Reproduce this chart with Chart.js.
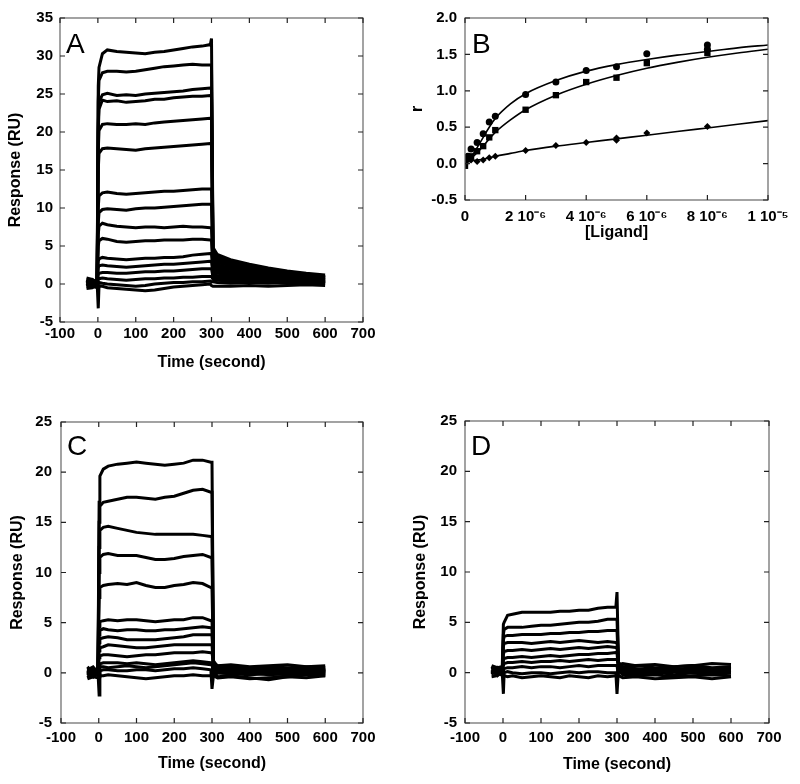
<!DOCTYPE html>
<html>
<head>
<meta charset="utf-8">
<script src="https://cdn.jsdelivr.net/npm/chart.js@4"></script>
<style>
body { margin: 0; background: #fff; }
.wrap { position: relative; width: 800px; height: 784px; background: #fff; }
canvas { position: absolute; }
</style>
</head>
<body>
<div class="wrap">
<canvas id="chartA" width="400" height="380" style="left:0px;top:0px"></canvas>
<canvas id="chartB" width="400" height="250" style="left:400px;top:0px"></canvas>
<canvas id="chartC" width="400" height="384" style="left:0px;top:400px"></canvas>
<canvas id="chartD" width="400" height="384" style="left:400px;top:400px"></canvas>
</div>
<script>
// sampling times (s) shared by the sensorgrams in A, C and D
var timeSec = [-30, -15, -2, 1, 3, 12, 25, 50, 75, 100, 125, 150, 175, 200, 225,
  250, 275, 297, 300, 304, 315, 350, 400, 450, 500, 550, 600];

// panel A sensorgrams (RU)
var a1 = [0.5, 0.3, 0.4, 26, 28.5, 30.3, 30.8, 30.6, 30.5, 30.4, 30.3, 30.5, 30.6, 30.8, 31.0, 31.2, 31.3, 31.5, 32.3, 4.8, 3.9, 3.2, 2.6, 2.1, 1.7, 1.4, 1.2];
var a2 = [0.3, 0.5, 0.2, 24, 26.8, 27.8, 28.0, 28.0, 27.9, 28.0, 28.2, 28.4, 28.6, 28.7, 28.8, 28.9, 28.8, 28.8, 28.7, 4.3, 3.6, 3.0, 2.4, 2.0, 1.6, 1.3, 1.0];
var a3 = [0, 0.2, -0.2, 21, 24, 24.9, 25.1, 24.8, 24.9, 24.8, 25.0, 25.1, 25.2, 25.3, 25.4, 25.6, 25.7, 25.8, 25.8, 4.0, 3.3, 2.8, 2.2, 1.8, 1.5, 1.2, 0.9];
var a4 = [0.4, 0, 0.3, 20, 23, 24.2, 24.0, 24.1, 23.9, 24.0, 24.1, 24.3, 24.3, 24.5, 24.6, 24.7, 24.7, 24.8, 24.8, 3.7, 3.0, 2.6, 2.0, 1.7, 1.4, 1.1, 0.9];
var a5 = [0.2, 0.6, 0.1, 17.5, 20.2, 21.0, 21.1, 21.0, 21.0, 21.1, 21.0, 21.2, 21.3, 21.4, 21.5, 21.6, 21.7, 21.8, 21.8, 3.4, 2.8, 2.4, 1.9, 1.5, 1.3, 1.0, 0.8];
var a6 = [0.6, 0.2, 0.5, 15, 17.2, 17.8, 17.9, 17.8, 17.7, 17.6, 17.8, 17.9, 18.0, 18.1, 18.2, 18.3, 18.4, 18.5, 18.5, 3.1, 2.5, 2.1, 1.7, 1.4, 1.1, 0.9, 0.7];
var a7 = [-0.2, 0.3, 0, 10, 11.6, 12.0, 12.1, 11.9, 11.8, 11.9, 12.0, 12.1, 12.2, 12.2, 12.3, 12.4, 12.5, 12.5, 12.5, 2.7, 2.2, 1.9, 1.5, 1.2, 1.0, 0.8, 0.6];
var a8 = [0.3, -0.2, 0.5, 8, 9.4, 9.8, 9.9, 9.8, 9.7, 9.9, 10.0, 10.0, 10.1, 10.2, 10.3, 10.4, 10.5, 10.5, 10.5, 2.4, 1.9, 1.6, 1.3, 1.1, 0.9, 0.7, 0.6];
var a9 = [0.1, 0.4, -0.1, 6.5, 7.6, 8.0, 7.8, 7.6, 7.5, 7.4, 7.5, 7.5, 7.4, 7.5, 7.6, 7.5, 7.5, 7.4, 7.4, 2.1, 1.7, 1.4, 1.1, 0.9, 0.8, 0.6, 0.5];
var a10 = [-0.3, 0.1, 0.3, 5, 5.7, 6.0, 5.9, 5.6, 5.5, 5.6, 5.7, 5.7, 5.8, 5.8, 5.8, 5.9, 5.9, 5.8, 5.8, 1.8, 1.4, 1.2, 1.0, 0.8, 0.7, 0.5, 0.4];
var a11 = [0.5, -0.1, 0.2, 3, 3.3, 3.5, 3.4, 3.3, 3.2, 3.3, 3.4, 3.4, 3.5, 3.5, 3.6, 3.8, 3.9, 4.0, 4.0, 1.5, 1.1, 1.0, 0.8, 0.6, 0.5, 0.4, 0.3];
var a12 = [0, 0.3, -0.3, 2.1, 2.4, 2.5, 2.4, 2.3, 2.2, 2.3, 2.4, 2.5, 2.6, 2.6, 2.7, 2.8, 2.9, 3.0, 3.0, 1.2, 0.9, 0.8, 0.6, 0.5, 0.4, 0.3, 0.3];
var a13 = [0.3, 0.5, 0.1, 1.2, 1.4, 1.5, 1.5, 1.4, 1.4, 1.5, 1.6, 1.6, 1.7, 1.7, 1.8, 1.9, 2.0, 2.0, 2.0, 0.9, 0.7, 0.6, 0.5, 0.4, 0.3, 0.2, 0.2];
var a14 = [-0.4, -0.2, -0.5, 0.5, 0.7, 0.8, 0.7, 0.6, 0.5, 0.6, 0.7, 0.7, 0.8, 0.8, 0.9, 0.9, 1.0, 1.0, 1.0, 0.6, 0.5, 0.4, 0.3, 0.2, 0.1, 0.1, 0.1];
var a15 = [0.8, 0.6, 0.2, -3.2, -0.2, -0.3, -0.5, -0.6, -0.7, -0.8, -0.9, -0.8, -0.6, -0.4, -0.3, -0.2, -0.1, 0, -0.2, -0.3, -0.3, -0.3, -0.2, -0.3, -0.2, -0.1, -0.2];
var a16 = [-0.6, -0.5, -0.2, 0, 0.2, 0.1, 0, -0.1, -0.2, -0.3, -0.2, 0, 0.1, 0.2, 0.2, 0.3, 0.3, 0.4, 0.3, 0.3, 0.2, 0.1, 0.2, 0.1, 0.3, 0.2, 0.3];

// panel C sensorgrams (RU)
var c1 = [0.3, -0.2, 0.5, 17, 19.6, 20.3, 20.6, 20.8, 20.9, 21.0, 20.9, 20.8, 20.7, 20.8, 20.9, 21.2, 21.2, 21.0, 21.0, 1.2, 0.6, 0.5, 0.4, 0.4, 0.3, 0.4, 0.3];
var c2 = [-0.2, 0.3, 0, 15, 16.6, 17.0, 17.1, 17.3, 17.5, 17.5, 17.4, 17.3, 17.5, 17.6, 17.9, 18.2, 18.3, 18.0, 18.0, 0.9, 0.5, 0.3, 0.4, 0.2, 0.3, 0.2, 0.3];
var c3 = [0.5, 0.1, -0.3, 12.5, 14.2, 14.5, 14.6, 14.4, 14.2, 14.0, 13.9, 13.8, 13.8, 13.8, 13.8, 13.8, 13.7, 13.6, 13.6, 0.8, 0.4, 0.3, 0.2, 0.3, 0.2, 0.1, 0.2];
var c4 = [0, 0.4, 0.2, 10, 11.5, 11.8, 11.9, 11.7, 11.7, 11.7, 11.5, 11.3, 11.3, 11.4, 11.6, 11.7, 11.8, 11.5, 11.5, 0.7, 0.3, 0.2, 0.1, 0.2, 0.1, 0.2, 0.1];
var c5 = [0.2, -0.3, 0.3, 7.5, 8.5, 8.7, 8.8, 8.9, 8.8, 9.0, 8.7, 8.5, 8.5, 8.7, 8.8, 9.0, 8.9, 8.5, 8.5, 0.6, 0.2, 0.1, 0.1, 0, 0.1, 0, 0.1];
var c6 = [0.4, 0.2, -0.1, 4.6, 5.1, 5.2, 5.3, 5.2, 5.3, 5.3, 5.2, 5.1, 5.2, 5.3, 5.3, 5.5, 5.5, 5.2, 5.2, 0.5, 0.1, 0, 0, -0.1, 0, -0.1, 0];
var c7 = [-0.1, 0.5, 0.1, 3.8, 4.2, 4.4, 4.3, 4.2, 4.3, 4.3, 4.2, 4.2, 4.3, 4.3, 4.4, 4.5, 4.6, 4.5, 4.5, 0.4, 0, -0.1, -0.2, -0.1, -0.2, -0.1, -0.2];
var c8 = [0.6, 0, 0.4, 3, 3.4, 3.5, 3.6, 3.5, 3.3, 3.3, 3.3, 3.3, 3.4, 3.5, 3.6, 3.8, 3.8, 3.8, 3.8, 0.7, 0.3, 0.2, 0.3, 0.1, 0.2, 0.3, 0.2];
var c9 = [0, -0.4, 0.2, 2.2, 2.5, 2.6, 2.8, 2.7, 2.6, 2.5, 2.5, 2.6, 2.7, 2.8, 2.8, 2.8, 2.8, 2.8, 2.8, 0.6, 0.4, 0.5, 0.3, 0.4, 0.3, 0.5, 0.4];
var c10 = [-0.5, 0, -0.2, 1.5, 1.7, 1.8, 1.8, 1.7, 1.6, 1.7, 1.8, 1.8, 1.9, 2.0, 2.0, 2.0, 2.1, 2.0, 2.0, 0.9, 0.7, 0.6, 0.5, 0.6, 0.5, 0.6, 0.5];
var c11 = [0.3, 0.6, 0, 0.8, 0.9, 1.0, 1.0, 1.0, 0.9, 1.0, 0.9, 0.8, 0.9, 1.0, 1.1, 1.2, 1.1, 1.0, 1.0, -0.3, -0.5, -0.4, -0.6, -0.5, -0.4, -0.5, -0.3];
var c12 = [-0.3, 0.2, 0, -2.2, 0.2, 0.3, 0.3, 0.2, 0.2, 0.3, 0.3, 0.2, 0.3, 0.4, 0.4, 0.5, 0.4, 0.3, -1.6, -0.2, 0, -0.1, 0, -0.2, -0.1, 0, -0.1];
var c13 = [0.1, -0.1, 0.3, -0.4, -0.3, -0.3, -0.2, -0.3, -0.4, -0.5, -0.6, -0.5, -0.4, -0.3, -0.3, -0.2, -0.3, -0.3, -0.3, 1.0, 0.7, 0.8, 0.6, 0.7, 0.8, 0.6, 0.7];
var c14 = [-0.6, -0.4, -0.5, -0.2, 0.6, 0.6, 0.5, 0.6, 0.7, 0.6, 0.5, 0.6, 0.7, 0.8, 0.9, 1.0, 0.9, 0.8, 0.8, 0.2, -0.4, -0.3, -0.5, -0.7, -0.4, -0.2, -0.3];

// panel D sensorgrams (RU)
var d1 = [0.3, -0.2, 0.5, 4.8, 5.0, 5.7, 5.8, 6.0, 6.0, 6.0, 6.0, 6.1, 6.1, 6.2, 6.2, 6.4, 6.5, 6.5, 8.0, 1.0, 0.6, 0.4, 0.3, 0.4, 0.3, 0.4, 0.3];
var d2 = [-0.2, 0.3, 0, 3.8, 4.3, 4.5, 4.5, 4.5, 4.6, 4.7, 4.7, 4.8, 4.9, 5.0, 5.0, 5.1, 5.3, 5.3, 5.3, 0.8, 0.4, 0.3, 0.4, 0.2, 0.3, 0.2, 0.3];
var d3 = [0.5, 0.1, -0.3, 3.2, 3.6, 3.7, 3.7, 3.8, 3.8, 3.8, 3.9, 3.9, 4.0, 4.0, 4.1, 4.1, 4.2, 4.2, 4.2, 0.6, 0.3, 0.2, 0.1, 0.3, 0.2, 0.1, 0.2];
var d4 = [0, 0.4, 0.2, 2.6, 2.9, 3.0, 3.0, 3.0, 2.9, 3.0, 3.1, 3.0, 3.1, 3.2, 3.1, 3.0, 3.1, 3.0, 3.0, 0.5, 0.2, 0.1, 0, 0.1, 0, 0.1, 0];
var d5 = [0.2, -0.3, 0.3, 1.8, 2.1, 2.2, 2.2, 2.3, 2.2, 2.3, 2.4, 2.3, 2.4, 2.5, 2.4, 2.5, 2.6, 2.5, 2.5, 0.3, 0, -0.1, 0.1, -0.2, 0, -0.1, 0];
var d6 = [0.4, 0.2, -0.1, 1.2, 1.4, 1.5, 1.5, 1.6, 1.5, 1.6, 1.7, 1.6, 1.7, 1.8, 1.8, 1.9, 1.9, 2.0, 2.0, 0.2, -0.2, -0.3, -0.2, -0.4, -0.3, -0.2, -0.3];
var d7 = [-0.1, 0.5, 0.1, 0.7, 0.9, 1.0, 1.0, 1.1, 1.0, 1.1, 1.1, 1.2, 1.1, 1.2, 1.3, 1.2, 1.3, 1.3, 1.3, 0.9, 0.6, 0.7, 0.5, 0.6, 0.7, 0.5, 0.6];
var d8 = [0.6, 0, 0.4, 0.2, 0.4, 0.5, 0.5, 0.6, 0.5, 0.6, 0.6, 0.5, 0.6, 0.7, 0.6, 0.7, 0.7, 0.7, 0.7, -0.3, -0.5, -0.4, -0.6, -0.5, -0.4, -0.6, -0.4];
var d9 = [-0.4, -0.3, 0, -2.1, 0, 0.1, 0, -0.1, 0, 0, -0.1, 0, 0.1, 0, 0.1, 0.1, 0, 0, -2.1, 0.4, 0.3, 0.4, 0.2, 0.3, 0.5, 0.3, 0.4];
var d10 = [0.7, 0.5, 0.6, -0.4, -0.3, -0.4, -0.3, -0.5, -0.4, -0.3, -0.4, -0.5, -0.3, -0.4, -0.5, -0.3, -0.4, -0.3, -0.3, 0.8, 0.9, 0.7, 0.8, 0.6, 0.7, 0.9, 0.8];

// panel B: binding isotherms, r versus [Ligand] (M)
var circleX = [0, 1e-7, 2e-7, 4e-7, 6e-7, 8e-7, 1e-6, 2e-6, 3e-6, 4e-6, 5e-6, 6e-6, 8e-6, 8e-6];
var circleY = [0.02, 0.1, 0.2, 0.29, 0.41, 0.57, 0.65, 0.95, 1.12, 1.28, 1.33, 1.51, 1.63, 1.57];
var squareX = [0, 0, 1e-7, 2e-7, 4e-7, 6e-7, 8e-7, 1e-6, 2e-6, 3e-6, 4e-6, 5e-6, 6e-6, 8e-6];
var squareY = [-0.03, 0.02, 0.06, 0.1, 0.17, 0.24, 0.36, 0.46, 0.74, 0.94, 1.12, 1.18, 1.38, 1.52];
var diamondX = [0, 2e-7, 4e-7, 6e-7, 8e-7, 1e-6, 2e-6, 3e-6, 4e-6, 5e-6, 5e-6, 6e-6, 8e-6];
var diamondY = [0.0, 0.05, 0.03, 0.05, 0.08, 0.1, 0.18, 0.25, 0.29, 0.35, 0.32, 0.42, 0.51];
var fitX = [0, 2e-7, 4e-7, 6e-7, 8e-7, 1e-6, 1.5e-6, 2e-6, 3e-6, 4e-6, 5e-6, 6e-6, 7e-6, 8e-6, 9e-6, 1e-5];
var circleFit = [0, 0.09, 0.22, 0.36, 0.5, 0.62, 0.82, 0.96, 1.14, 1.27, 1.36, 1.43, 1.49, 1.54, 1.59, 1.63];
var squareFit = [0, 0.07, 0.15, 0.24, 0.34, 0.43, 0.6, 0.74, 0.94, 1.09, 1.21, 1.31, 1.39, 1.46, 1.52, 1.57];
var diamondFit = [0.02, 0.04, 0.05, 0.06, 0.08, 0.1, 0.14, 0.18, 0.24, 0.29, 0.34, 0.39, 0.44, 0.49, 0.54, 0.59];

Chart.defaults.font.family = '"Liberation Sans", Arial, sans-serif';
Chart.defaults.color = '#000';
Chart.defaults.animation = false;

var tickFont = { size: 15, weight: 'bold' };
var titleFont = { size: 16, weight: 'bold' };
var noGrid = { display: false, drawTicks: false };

// box round the plot, inward tick marks on all four sides, panel letter
var framePlugin = {
  id: 'frame',
  afterDraw: function(chart, args, opts) {
    var ctx = chart.ctx;
    var a = chart.chartArea;
    var sx = chart.scales.x;
    var sy = chart.scales.y;
    ctx.save();
    ctx.strokeStyle = '#666';
    ctx.lineWidth = 1.2;
    ctx.strokeRect(a.left, a.top, a.right - a.left, a.bottom - a.top);
    ctx.strokeStyle = '#222';
    ctx.beginPath();
    sx.ticks.forEach(function(t) {
      var p = sx.getPixelForValue(t.value);
      ctx.moveTo(p, a.bottom);
      ctx.lineTo(p, a.bottom - 5);
      ctx.moveTo(p, a.top);
      ctx.lineTo(p, a.top + 5);
    });
    sy.ticks.forEach(function(t) {
      var p = sy.getPixelForValue(t.value);
      ctx.moveTo(a.left, p);
      ctx.lineTo(a.left + 5, p);
      ctx.moveTo(a.right, p);
      ctx.lineTo(a.right - 5, p);
    });
    ctx.stroke();
    ctx.fillStyle = '#000';
    ctx.font = '28px "Liberation Sans", Arial, sans-serif';
    ctx.textBaseline = 'alphabetic';
    ctx.fillText(opts.letter, a.left + opts.dx, a.top + opts.dy);
    ctx.restore();
  }
};

function traceSets(series) {
  return series.map(function(vals) {
    return {
      data: vals.map(function(v, i) { return { x: timeSec[i], y: v }; }),
      borderColor: '#000',
      borderWidth: 3,
      pointRadius: 0,
      tension: 0
    };
  });
}

function xyPoints(xs, ys) {
  return xs.map(function(x, i) { return { x: x, y: ys[i] }; });
}

function sensorChart(id, letter, series, yMax, box) {
  return new Chart(document.getElementById(id), {
    type: 'line',
    data: { datasets: traceSets(series) },
    options: {
      responsive: false,
      layout: { padding: { top: box.top, right: box.right, left: 0, bottom: 0 } },
      plugins: {
        legend: { display: false },
        tooltip: { enabled: false },
        frame: { letter: letter, dx: box.letterDx, dy: box.letterDy }
      },
      scales: {
        x: {
          type: 'linear',
          min: -100,
          max: 700,
          grid: noGrid,
          border: { display: false },
          ticks: { stepSize: 100, font: tickFont, padding: box.xTickPad, maxRotation: 0, autoSkip: false },
          title: { display: true, text: 'Time (second)', font: titleFont, padding: { top: 0, bottom: box.xTitlePad } },
          afterFit: function(s) { s.height = box.xHeight; }
        },
        y: {
          min: -5,
          max: yMax,
          grid: noGrid,
          border: { display: false },
          ticks: { stepSize: 5, font: tickFont, padding: box.yTickPad },
          title: { display: true, text: 'Response (RU)', font: titleFont, padding: { top: box.yTitlePad, bottom: 0 } },
          afterFit: function(s) { s.width = box.yWidth; }
        }
      }
    },
    plugins: [framePlugin]
  });
}

sensorChart('chartA', 'A', [a1, a2, a3, a4, a5, a6, a7, a8, a9, a10, a11, a12, a13, a14, a15, a16], 35,
  { top: 18, right: 37, yWidth: 60, xHeight: 58, xTickPad: 3, xTitlePad: 8, yTickPad: 7, yTitlePad: 6, letterDx: 6, letterDy: 35 });

sensorChart('chartC', 'C', [c1, c2, c3, c4, c5, c6, c7, c8, c9, c10, c11, c12, c13, c14], 25,
  { top: 22, right: 37, yWidth: 61, xHeight: 61, xTickPad: 6, xTitlePad: 11, yTickPad: 9, yTitlePad: 8, letterDx: 6, letterDy: 33 });

sensorChart('chartD', 'D', [d1, d2, d3, d4, d5, d6, d7, d8, d9, d10], 25,
  { top: 21, right: 31, yWidth: 65, xHeight: 61, xTickPad: 6, xTitlePad: 10, yTickPad: 8, yTitlePad: 11, letterDx: 6, letterDy: 34 });

var supers = { '5': '\u2075', '6': '\u2076' };

new Chart(document.getElementById('chartB'), {
  type: 'line',
  data: {
    datasets: [
      { data: xyPoints(fitX, circleFit), borderColor: '#000', borderWidth: 1.6, pointRadius: 0, cubicInterpolationMode: 'monotone' },
      { data: xyPoints(fitX, squareFit), borderColor: '#000', borderWidth: 1.6, pointRadius: 0, cubicInterpolationMode: 'monotone' },
      { data: xyPoints(fitX, diamondFit), borderColor: '#000', borderWidth: 1.6, pointRadius: 0, cubicInterpolationMode: 'monotone' },
      { data: xyPoints(circleX, circleY), showLine: false, pointStyle: 'circle', pointRadius: 3.5, backgroundColor: '#000', borderColor: '#000', borderWidth: 0 },
      { data: xyPoints(squareX, squareY), showLine: false, pointStyle: 'rect', pointRadius: 4.5, backgroundColor: '#000', borderColor: '#000', borderWidth: 0 },
      { data: xyPoints(diamondX, diamondY), showLine: false, pointStyle: 'rectRot', pointRadius: 3.5, backgroundColor: '#000', borderColor: '#000', borderWidth: 0 }
    ]
  },
  options: {
    responsive: false,
    layout: { padding: { top: 18, right: 32, left: 0, bottom: 0 } },
    plugins: {
      legend: { display: false },
      tooltip: { enabled: false },
      frame: { letter: 'B', dx: 7, dy: 35 }
    },
    scales: {
      x: {
        type: 'linear',
        min: 0,
        max: 1e-5,
        grid: noGrid,
        border: { display: false },
        ticks: {
          stepSize: 2e-6,
          font: tickFont,
          padding: 8,
          maxRotation: 0,
          autoSkip: false,
          callback: function(v) {
            var n = Math.round(v * 1e6);
            if (n === 0) return '0';
            if (n === 10) return '1 10\u207B' + supers['5'];
            return n + ' 10\u207B' + supers['6'];
          }
        },
        title: { display: true, text: '[Ligand]', font: titleFont, padding: { top: 0, bottom: 8 } },
        afterFit: function(s) { s.height = 50; }
      },
      y: {
        min: -0.5,
        max: 2.0,
        grid: noGrid,
        border: { display: false },
        ticks: { stepSize: 0.5, font: tickFont, padding: 8, callback: function(v) { return v.toFixed(1); } },
        title: { display: true, text: 'r', font: titleFont, padding: { top: 8, bottom: 0 } },
        afterFit: function(s) { s.width = 65; }
      }
    }
  },
  plugins: [framePlugin]
});
</script>
</body>
</html>
